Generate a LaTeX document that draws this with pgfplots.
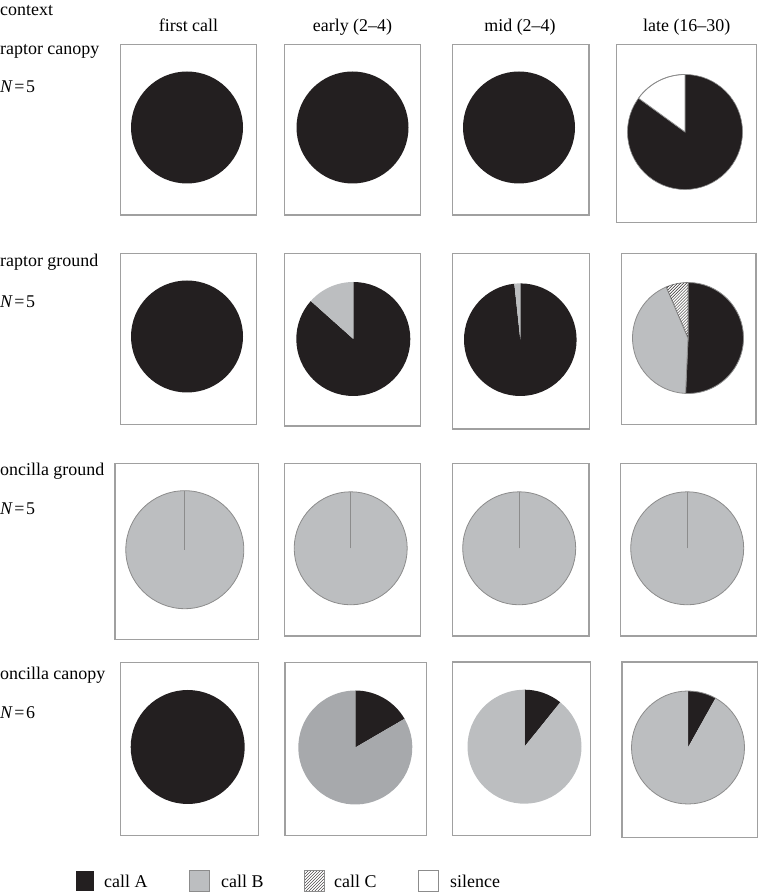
\documentclass[border=0pt]{standalone}
\usepackage{fontspec}
\setmainfont{Liberation Serif}
\usepackage{pgfplots}
\pgfplotsset{compat=1.18}
\usetikzlibrary{patterns}

\definecolor{callA}{RGB}{35,31,32}
\definecolor{callB}{RGB}{188,190,192}
\definecolor{callBdk}{RGB}{167,169,172}
\definecolor{rim}{RGB}{140,140,140}
\definecolor{boxgray}{RGB}{160,160,160}

% slice: style, cx, cy, r, from, to (fractions, clockwise from 12 o'clock)
\newcommand{\slice}[6]{%
  \path[#1] (axis cs:#2,#3) -- ++({90-360*#5}:#4bp)
    arc[start angle={90-360*#5}, end angle={90-360*#6}, radius=#4bp] -- cycle;}

\pgfplotsset{
  panel/.style={anchor=south west, scale only axis, ticks=none, clip=false,
    axis line style={draw=boxgray, line width=1.2bp}},
}
\tikzset{lab/.style={font=\fontsize{18}{21}\selectfont, inner sep=0pt, anchor=base west},
  hatch/.style={pattern=north east lines, pattern color=callA}}

\begin{document}
\begin{tikzpicture}
\path[use as bounding box] (0,0) rectangle (758bp,895bp);

% frame for the labels and the key
\begin{axis}[at={(0,0)}, anchor=south west, scale only axis, hide axis, clip=false,
  width=758bp, height=895bp, xmin=0, xmax=758, ymin=0, ymax=895]
  \node[lab] at (axis cs:0,879) {context};
  \node[lab, anchor=base] at (axis cs:188.5,863) {first call};
  \node[lab, anchor=base] at (axis cs:352.5,863) {early (2–4)};
  \node[lab, anchor=base] at (axis cs:520,863) {mid (2–4)};
  \node[lab, anchor=base] at (axis cs:686.7,863) {late (16–30)};
  \node[lab] at (axis cs:0,840) {raptor canopy};
  \node[lab] at (axis cs:0,802) {\textit{N}\kern1.5pt=\kern1.5pt5};
  \node[lab] at (axis cs:0,628.3) {raptor ground};
  \node[lab] at (axis cs:0,587.7) {\textit{N}\kern1.5pt=\kern1.5pt5};
  \node[lab] at (axis cs:0,419) {oncilla ground};
  \node[lab] at (axis cs:0,380.7) {\textit{N}\kern1.5pt=\kern1.5pt5};
  \node[lab] at (axis cs:0,215) {oncilla canopy};
  \node[lab] at (axis cs:0,176.7) {\textit{N}\kern1.5pt=\kern1.5pt6};
  % key
  \fill[callA] (axis cs:76,3.5) rectangle (axis cs:94,24.3);
  \node[lab] at (axis cs:104,7.7) {call A};
  \draw[fill=callB, draw=rim, line width=0.8bp] (axis cs:189,3.5) rectangle (axis cs:209,24.3);
  \node[lab] at (axis cs:221,7.7) {call B};
  \draw[hatch, draw=rim, line width=0.8bp] (axis cs:304,3.5) rectangle (axis cs:324,24.3);
  \node[lab] at (axis cs:334,7.7) {call C};
  \draw[fill=white, draw=rim, line width=0.8bp] (axis cs:418,3.5) rectangle (axis cs:438,24.3);
  \node[lab] at (axis cs:450,7.7) {silence};
\end{axis}

% ---- raptor canopy
\begin{axis}[panel, at={(120.7bp,680bp)}, xmin=120.7, xmax=256.7, ymin=680, ymax=850.7, width=136bp, height=170.7bp]
  \fill[callA] (axis cs:187,767.5) circle[radius=56bp];
\end{axis}
\begin{axis}[panel, at={(284.3bp,680bp)}, xmin=284.3, xmax=420.7, ymin=680, ymax=850.7, width=136.4bp, height=170.7bp]
  \fill[callA] (axis cs:352.5,767.5) circle[radius=56bp];
\end{axis}
\begin{axis}[panel, at={(452.3bp,680bp)}, xmin=452.3, xmax=589, ymin=680, ymax=850.7, width=136.7bp, height=170.7bp]
  \fill[callA] (axis cs:519,767.5) circle[radius=56bp];
\end{axis}
\begin{axis}[panel, at={(616.7bp,672.7bp)}, xmin=616.7, xmax=756.7, ymin=672.7, ymax=850.7, width=140bp, height=178bp]
  \slice{fill=callA}{685}{763}{57.5}{0}{0.85}
  \slice{fill=white, draw=rim, line width=0.8bp}{685}{763}{57.5}{0.85}{1}
  \draw[rim, line width=0.6bp] (axis cs:685,763) circle[radius=57.5bp];
\end{axis}

% ---- raptor ground
\begin{axis}[panel, at={(120.7bp,470.7bp)}, xmin=120.7, xmax=256.7, ymin=470.7, ymax=641.7, width=136bp, height=171bp]
  \fill[callA] (axis cs:187,558.5) circle[radius=56bp];
\end{axis}
\begin{axis}[panel, at={(284.3bp,469bp)}, xmin=284.3, xmax=420.7, ymin=469, ymax=641.3, width=136.4bp, height=172.3bp]
  \slice{fill=callA}{353.3}{556}{57}{0}{0.866}
  \slice{fill=callB}{353.3}{556}{57}{0.866}{1}
\end{axis}
\begin{axis}[panel, at={(452.7bp,466bp)}, xmin=452.7, xmax=589.3, ymin=466, ymax=641.7, width=136.6bp, height=175.7bp]
  \slice{fill=callA}{520.3}{555.3}{56.3}{0}{0.983}
  \slice{fill=callB}{520.3}{555.3}{56.3}{0.983}{1}
\end{axis}
\begin{axis}[panel, at={(621.7bp,470.7bp)}, xmin=621.7, xmax=756, ymin=470.7, ymax=641.7, width=134.3bp, height=171bp]
  \slice{fill=callA, draw=rim, line width=0.8bp}{688}{557}{55.5}{0}{0.507}
  \slice{fill=callB, draw=rim, line width=0.8bp}{688}{557}{55.5}{0.507}{0.936}
  \slice{fill=white, draw=rim, line width=0.8bp}{688}{557}{55.5}{0.936}{1}
  \slice{hatch}{688}{557}{55.5}{0.936}{1}
\end{axis}

% ---- oncilla ground
\begin{axis}[panel, at={(115bp,255.7bp)}, xmin=115, xmax=258.3, ymin=255.7, ymax=431.7, width=143.3bp, height=176bp]
  \draw[fill=callB, draw=rim, line width=0.8bp] (axis cs:184.8,345.3) circle[radius=59bp];
  \draw[rim, line width=0.8bp] (axis cs:184.8,345.3) -- ++(90:59bp);
\end{axis}
\begin{axis}[panel, at={(284.3bp,259bp)}, xmin=284.3, xmax=420.7, ymin=259, ymax=431.7, width=136.4bp, height=172.7bp]
  \draw[fill=callB, draw=rim, line width=0.8bp] (axis cs:350.7,346.7) circle[radius=56.5bp];
  \draw[rim, line width=0.8bp] (axis cs:350.7,346.7) -- ++(90:56.5bp);
\end{axis}
\begin{axis}[panel, at={(452.3bp,259bp)}, xmin=452.3, xmax=589, ymin=259, ymax=431.7, width=136.7bp, height=172.7bp]
  \draw[fill=callB, draw=rim, line width=0.8bp] (axis cs:519.2,346.7) circle[radius=56.5bp];
  \draw[rim, line width=0.8bp] (axis cs:519.2,346.7) -- ++(90:56.5bp);
\end{axis}
\begin{axis}[panel, at={(620.7bp,259bp)}, xmin=620.7, xmax=756.7, ymin=259, ymax=431.7, width=136bp, height=172.7bp]
  \draw[fill=callB, draw=rim, line width=0.8bp] (axis cs:687.2,346.7) circle[radius=56.5bp];
  \draw[rim, line width=0.8bp] (axis cs:687.2,346.7) -- ++(90:56.5bp);
\end{axis}

% ---- oncilla canopy
\begin{axis}[panel, at={(120.7bp,59.3bp)}, xmin=120.7, xmax=258.3, ymin=59.3, ymax=232.7, width=137.6bp, height=173.4bp]
  \fill[callA] (axis cs:187.7,148) circle[radius=57bp];
\end{axis}
\begin{axis}[panel, at={(285bp,59.3bp)}, xmin=285, xmax=426.7, ymin=59.3, ymax=232.7, width=141.7bp, height=173.4bp]
  \slice{fill=callA}{355.3}{147.5}{57}{0}{0.166}
  \slice{fill=callBdk}{355.3}{147.5}{57}{0.166}{1}
\end{axis}
\begin{axis}[panel, at={(452.7bp,59.3bp)}, xmin=452.7, xmax=590.7, ymin=59.3, ymax=233, width=138bp, height=173.7bp]
  \slice{fill=callA}{524.5}{148.3}{57}{0}{0.108}
  \slice{fill=callB}{524.5}{148.3}{57}{0.108}{1}
\end{axis}
\begin{axis}[panel, at={(622bp,57.7bp)}, xmin=622, xmax=757.7, ymin=57.7, ymax=233, width=135.7bp, height=175.3bp]
  \slice{fill=callA}{688}{147.5}{56.5}{0}{0.081}
  \slice{fill=callB}{688}{147.5}{56.5}{0.081}{1}
  \draw[rim, line width=0.8bp] (axis cs:688,147.5) circle[radius=56.5bp];
\end{axis}
\end{tikzpicture}
\end{document}
